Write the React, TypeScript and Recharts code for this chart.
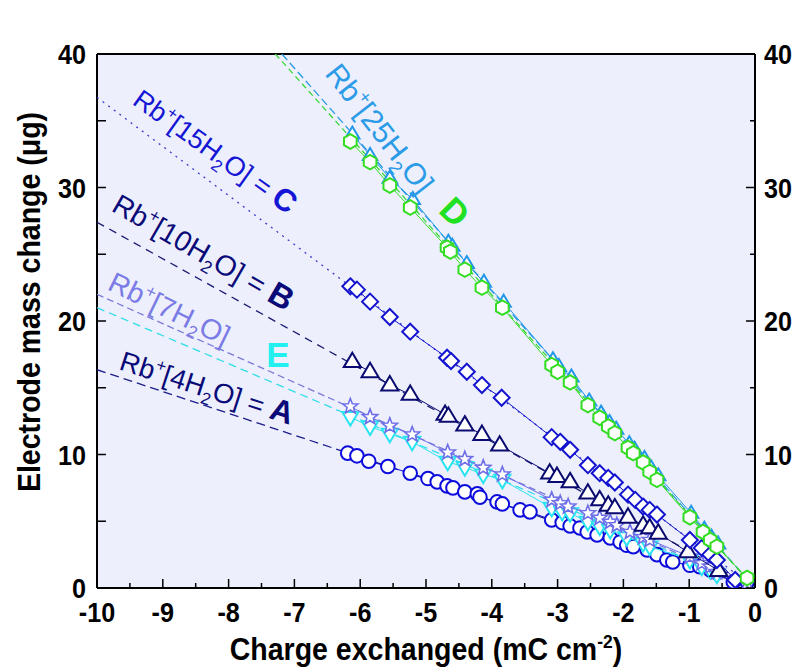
import React from "react";
import { ComposedChart, Scatter, XAxis, YAxis, CartesianGrid, ReferenceDot } from "recharts";

// ---- data ----
// Rb+[4H2O] = A, open circles
const A_X = [-6.19, -6.05, -5.87, -5.58, -5.24, -4.97, -4.83, -4.68, -4.59, -4.41, -4.22, -4.18, -3.92, -3.84, -3.57, -3.42, -3.09, -2.93, -2.81, -2.66, -2.55, -2.4, -2.2, -2.05, -1.95, -1.85, -1.64, -1.49, -1.34, -1.25, -0.99, -0.84, -0.68, -0.58, -0.33, -0.12];
const A_Y = [10.1, 9.9, 9.5, 9.1, 8.6, 8.2, 7.95, 7.65, 7.5, 7.2, 7.05, 6.8, 6.45, 6.3, 5.85, 5.7, 5.1, 4.9, 4.65, 4.5, 4.2, 3.97, 3.75, 3.45, 3.2, 3.1, 2.85, 2.5, 2.1, 1.95, 1.7, 1.6, 1.35, 1.15, 0.45, 0.45];
// E, down triangles
const E_X = [-6.15, -5.85, -5.55, -5.21, -4.67, -4.41, -4.13, -3.84, -3.09, -2.93, -2.81, -2.54, -2.36, -2.2, -1.95, -1.7, -1.6, -0.99, -0.81, -0.68, -0.58];
const E_Y = [12.8, 12.1, 11.55, 10.95, 9.45, 9.05, 8.5, 8.1, 6.0, 5.7, 5.6, 4.95, 4.6, 4.35, 3.8, 3.35, 3.1, 2.1, 1.6, 1.35, 1.0];
// Rb+[7H2O], stars
const S_X = [-6.15, -5.85, -5.55, -5.21, -4.67, -4.41, -4.13, -3.84, -3.09, -2.96, -2.84, -2.54, -2.36, -2.2, -2.1, -1.9, -1.7, -1.6, -0.99, -0.81, -0.68, -0.58, -0.12];
const S_Y = [13.6, 12.8, 12.15, 11.5, 10.15, 9.65, 9.0, 8.5, 6.6, 6.35, 6.1, 5.6, 5.25, 4.95, 4.7, 4.2, 3.8, 3.6, 2.35, 1.85, 1.6, 1.2, 0.35];
// Rb+[10H2O] = B, up triangles
const B_X = [-6.12, -5.85, -5.55, -5.24, -4.71, -4.66, -4.41, -4.15, -3.88, -3.12, -3.01, -2.81, -2.54, -2.36, -2.23, -2.13, -1.93, -1.7, -1.6, -1.47, -1.02, -0.55];
const B_Y = [16.95, 16.2, 15.2, 14.5, 13.0, 12.85, 12.2, 11.5, 10.7, 8.6, 8.35, 7.95, 7.1, 6.6, 6.2, 6.0, 5.3, 4.7, 4.5, 4.1, 2.7, 1.3];
// Rb+[15H2O] = C, diamonds
const C_X = [-6.15, -6.05, -5.85, -5.55, -5.24, -4.68, -4.62, -4.38, -4.15, -3.85, -3.09, -2.96, -2.81, -2.54, -2.36, -2.23, -2.13, -1.93, -1.82, -1.7, -1.6, -1.49, -0.99, -0.81, -0.68, -0.58, -0.3];
const C_Y = [22.6, 22.35, 21.45, 20.3, 19.2, 17.25, 17.0, 16.2, 15.2, 14.25, 11.3, 10.95, 10.35, 9.2, 8.6, 8.25, 7.9, 7.0, 6.6, 6.1, 5.85, 5.5, 3.6, 3.0, 2.5, 2.1, 0.6];
// Rb+[25H2O], up triangles
const T_X = [-6.12, -5.85, -5.55, -5.2, -4.66, -4.6, -4.38, -4.12, -3.82, -3.07, -2.98, -2.79, -2.52, -2.34, -2.21, -2.11, -1.91, -1.83, -1.68, -1.58, -1.47, -0.97, -0.77, -0.66, -0.56];
const T_Y = [34.0, 32.4, 30.7, 29.1, 25.9, 25.6, 24.3, 22.9, 21.4, 17.1, 16.6, 15.8, 14.0, 13.1, 12.4, 11.9, 10.8, 10.4, 9.7, 9.0, 8.4, 5.6, 4.4, 3.8, 3.3];
// D, hexagons
const D_X = [-6.15, -5.85, -5.55, -5.24, -4.68, -4.63, -4.41, -4.15, -3.84, -3.09, -3.0, -2.81, -2.54, -2.36, -2.23, -2.13, -1.93, -1.85, -1.7, -1.6, -1.49, -0.99, -0.79, -0.68, -0.58, -0.12];
const D_Y = [33.45, 31.9, 30.15, 28.5, 25.5, 25.2, 23.85, 22.5, 21.0, 16.7, 16.2, 15.4, 13.7, 12.75, 12.1, 11.6, 10.5, 10.1, 9.4, 8.7, 8.1, 5.3, 4.2, 3.6, 3.1, 0.75];

// fitted lines: [start x, start y, end x, end y]
const FIT_A = [-10, 16.35, 0, 0];
const FIT_E = [-10, 21.0, 0, 0];
const FIT_S = [-10, 22.0, 0, 0];
const FIT_B = [-10, 27.4, 0, 0];
const FIT_C = [-10, 36.75, 0, 0];
const FIT_T = [-7.19, 40, 0, 0];
const FIT_D = [-7.29, 40, 0, 0];

const X_TICKS = [-10, -9.5, -9, -8.5, -8, -7.5, -7, -6.5, -6, -5.5, -5, -4.5, -4, -3.5, -3, -2.5, -2, -1.5, -1, -0.5, 0];
const Y_TICKS = [0, 5, 10, 15, 20, 25, 30, 35, 40];

const pts = (xs: number[], ys: number[]) => xs.map((x, i) => ({ x, y: ys[i] }));
const fit = (f: number[]) => [{ x: f[0], y: f[1] }, { x: f[2], y: f[3] }];

const FONT = "'Liberation Sans', Arial, sans-serif";
const NARROW = 0.9;
const tickFont = { fontFamily: FONT, fontWeight: 700, fontSize: 28, fill: "#000" } as const;
const titleFont = { ...tickFont, fontSize: 31 };

// ---- marker shapes ----
const Circ = (c: string) => (p: any) => <circle cx={p.cx} cy={p.cy} r={6.8} fill="#fff" stroke={c} strokeWidth={2} />;
const TriUp = (c: string, s = 9) => (p: any) => (
  <path d={`M${p.cx},${p.cy - s}L${p.cx + s * 0.95},${p.cy + s * 0.6}L${p.cx - s * 0.95},${p.cy + s * 0.6}Z`} fill="#fff" stroke={c} strokeWidth={2} />
);
const TriDown = (c: string, s = 8.5) => (p: any) => (
  <path d={`M${p.cx},${p.cy + s}L${p.cx + s * 0.95},${p.cy - s * 0.6}L${p.cx - s * 0.95},${p.cy - s * 0.6}Z`} fill="#fff" stroke={c} strokeWidth={2} />
);
const Diamond = (c: string) => (p: any) => (
  <path d={`M${p.cx},${p.cy - 8}L${p.cx + 8},${p.cy}L${p.cx},${p.cy + 8}L${p.cx - 8},${p.cy}Z`} fill="#fff" stroke={c} strokeWidth={2} />
);
const Hex = (c: string) => (p: any) => {
  const r = 7.3;
  const d = [0, 1, 2, 3, 4, 5].map((k) => {
    const a = (Math.PI / 3) * k - Math.PI / 2;
    return `${k ? "L" : "M"}${p.cx + r * Math.cos(a)},${p.cy + r * Math.sin(a)}`;
  }).join("") + "Z";
  return <path d={d} fill="#fff" stroke={c} strokeWidth={2} />;
};
const Star = (c: string) => (p: any) => {
  const ro = 8, ri = 3.4;
  const d = Array.from({ length: 10 }, (_, k) => {
    const a = (Math.PI / 5) * k - Math.PI / 2;
    const r = k % 2 ? ri : ro;
    return `${k ? "L" : "M"}${p.cx + r * Math.cos(a)},${p.cy + r * Math.sin(a)}`;
  }).join("") + "Z";
  return <path d={d} fill="#fff" stroke={c} strokeWidth={1.6} />;
};
const none = () => <g />;

// ---- ticks (inward lines, bold narrow labels) ----
const Txt = ({ x, y, anchor, children }: any) => (
  <text transform={`translate(${x},${y}) scale(${NARROW},1)`} textAnchor={anchor} style={tickFont}>{children}</text>
);
function BottomTick({ x, y, payload }: any) {
  const major = Number.isInteger(payload.value);
  return (
    <g>
      <line x1={x} x2={x} y1={y} y2={y - (major ? 9 : 5)} stroke="#000" strokeWidth={1.5} />
      {major && <Txt x={x} y={y + 34} anchor="middle">{payload.value}</Txt>}
    </g>
  );
}
function TopTick({ x, y, payload }: any) {
  const major = Number.isInteger(payload.value);
  return (
    <g>
      <line x1={x} x2={x} y1={y} y2={y + 9} stroke="#000" strokeWidth={1.5} />
      {major && <Txt x={x} y={y - 15} anchor="middle">{payload.value}</Txt>}
    </g>
  );
}
function LeftTick({ x, y, payload }: any) {
  const major = payload.value % 10 === 0;
  return (
    <g>
      <line x1={x} x2={x + 9} y1={y} y2={y} stroke="#000" strokeWidth={1.5} />
      {major && <Txt x={x - 11} y={y + 10} anchor="end">{payload.value}</Txt>}
    </g>
  );
}
function RightTick({ x, y, payload }: any) {
  const major = payload.value % 10 === 0;
  return (
    <g>
      <line x1={x} x2={x - (major ? 9 : 5)} y1={y} y2={y} stroke="#000" strokeWidth={1.5} />
      {major && <Txt x={x + 9} y={y + 10} anchor="start">{payload.value}</Txt>}
    </g>
  );
}

const XTitle = (p: any) => {
  const vb = p.viewBox;
  return (
    <text transform={`translate(${vb.x + vb.width / 2},${vb.y + 72}) scale(0.92,1)`} textAnchor="middle" style={titleFont}>
      Charge exchanged (mC cm<tspan dy={-12} fontSize={19}>-2</tspan><tspan dy={12}>)</tspan>
    </text>
  );
};
const YTitle = (p: any) => {
  const vb = p.viewBox;
  return (
    <text transform={`translate(${vb.x + 3},${vb.y + 248}) rotate(-90) scale(0.92,1)`} textAnchor="middle" style={titleFont}>
      Electrode mass change (μg)
    </text>
  );
};

// ---- in-plot annotations ----
type Ann = { x: number; y: number; angle: number; color: string; n?: string; tail?: string; big?: string; size: number };
const ANNS: Ann[] = [
  { x: -9.48, y: 36.3, angle: 35.5, color: "#1515d5", n: "15", tail: "O] = ", big: "C", size: 27 },
  { x: -9.8, y: 28.3, angle: 30, color: "#0a0a78", n: "10", tail: "O] = ", big: "B", size: 28.5 },
  { x: -9.86, y: 22.4, angle: 26, color: "#7b7be6", n: "7", tail: "O]", size: 28.5 },
  { x: -9.68, y: 16.4, angle: 18, color: "#0a0a78", n: "4", tail: "O] = ", big: "A", size: 27.5 },
  { x: -6.55, y: 38.5, angle: 52, color: "#2b9be8", n: "25", tail: "O]", size: 30 },
];
const Rot = (a: Ann) => (p: any) => {
  const s = a.size, sm = s * 0.62;
  return (
    <text transform={`translate(${p.cx},${p.cy}) rotate(${a.angle})`} fill={a.color} style={{ fontFamily: FONT, fontSize: s, whiteSpace: "pre" }}>
      Rb<tspan dy={-s * 0.4} fontSize={sm}>+</tspan><tspan dy={s * 0.4}>[{a.n}H</tspan><tspan dy={s * 0.25} fontSize={sm}>2</tspan><tspan dy={-s * 0.25}>{a.tail}</tspan>
      {a.big && <tspan fontWeight={700} fontSize={s * 1.15}>{a.big}</tspan>}
    </text>
  );
};
const Letter = (t: string, color: string, angle: number) => (p: any) => (
  <text transform={`translate(${p.cx},${p.cy}) rotate(${angle})`} fill={color} textAnchor="middle" dominantBaseline="central"
    style={{ fontFamily: FONT, fontSize: 35, fontWeight: 700 }}>{t}</text>
);

const FITS: [number[], string, string][] = [
  [FIT_A, "#1c1c8c", "9 5"],
  [FIT_E, "#30dde8", "8 5"],
  [FIT_S, "#7a7ad8", "7 4"],
  [FIT_B, "#1a1a70", "8 6"],
  [FIT_C, "#3c3cc8", "2 5"],
  [FIT_T, "#2a9ae0", "8 4"],
  [FIT_D, "#3ad83a", "6 4"],
];

export default function App() {
  return (
    <div style={{ position: "absolute", left: 0, top: 0, width: 798, height: 668, background: "#fff" }}>
      <ComposedChart width={798} height={668} margin={{ top: 24, right: 8, bottom: 40, left: 37 }}>
        <CartesianGrid horizontal={false} vertical={false} fill="#edf0fc" />
        <XAxis xAxisId="b" type="number" dataKey="x" domain={[-10, 0]} ticks={X_TICKS} interval={0} orientation="bottom" height={40}
          tickLine={false} tickSize={0} tickMargin={0} axisLine={{ stroke: "#000", strokeWidth: 2 }} tick={<BottomTick />}
          allowDataOverflow label={XTitle} />
        <XAxis xAxisId="t" type="number" domain={[-10, 0]} ticks={X_TICKS} interval={0} orientation="top" height={30}
          tickLine={false} tickSize={0} tickMargin={0} axisLine={{ stroke: "#000", strokeWidth: 2 }} tick={<TopTick />} allowDataOverflow />
        <YAxis yAxisId="l" type="number" dataKey="y" domain={[0, 40]} ticks={Y_TICKS} interval={0} orientation="left" width={60}
          tickLine={false} tickSize={0} tickMargin={0} axisLine={{ stroke: "#000", strokeWidth: 2 }} tick={<LeftTick />}
          allowDataOverflow label={YTitle} />
        <YAxis yAxisId="r" type="number" domain={[0, 40]} ticks={Y_TICKS} interval={0} orientation="right" width={35}
          tickLine={false} tickSize={0} tickMargin={0} axisLine={{ stroke: "#000", strokeWidth: 2 }} tick={<RightTick />} allowDataOverflow />

        {FITS.map(([f, c, dash], i) => (
          <Scatter key={"fit" + i} xAxisId="b" yAxisId="l" data={fit(f)} shape={none} isAnimationActive={false}
            line={{ stroke: c, strokeWidth: 1.3, strokeDasharray: dash }} />
        ))}

        <Scatter xAxisId="b" yAxisId="l" data={pts(A_X, A_Y)} shape={Circ("#0c0cdc")} line={{ stroke: "#0c0cdc", strokeWidth: 1 }} isAnimationActive={false} />
        <Scatter xAxisId="b" yAxisId="l" data={pts(E_X, E_Y)} shape={TriDown("#28e4f0")} line={{ stroke: "#28e4f0", strokeWidth: 1 }} isAnimationActive={false} />
        <Scatter xAxisId="b" yAxisId="l" data={pts(S_X, S_Y)} shape={Star("#6e6ee8")} line={{ stroke: "#6e6ee8", strokeWidth: 1 }} isAnimationActive={false} />
        <Scatter xAxisId="b" yAxisId="l" data={pts(B_X, B_Y)} shape={TriUp("#0a0a70")} line={{ stroke: "#0a0a70", strokeWidth: 1 }} isAnimationActive={false} />
        <Scatter xAxisId="b" yAxisId="l" data={pts(C_X, C_Y)} shape={Diamond("#1414d0")} line={{ stroke: "#1414d0", strokeWidth: 1 }} isAnimationActive={false} />
        <Scatter xAxisId="b" yAxisId="l" data={pts(T_X, T_Y)} shape={TriUp("#2296ea", 7.5)} line={{ stroke: "#2296ea", strokeWidth: 1 }} isAnimationActive={false} />
        <Scatter xAxisId="b" yAxisId="l" data={pts(D_X, D_Y)} shape={Hex("#33dd22")} line={{ stroke: "#33dd22", strokeWidth: 1 }} isAnimationActive={false} />

        {ANNS.map((a, i) => (
          <ReferenceDot key={"ann" + i} xAxisId="b" yAxisId="l" x={a.x} y={a.y} r={0} ifOverflow="visible" shape={Rot(a)} />
        ))}
        <ReferenceDot xAxisId="b" yAxisId="l" x={-4.56} y={28.2} r={0} ifOverflow="visible" shape={Letter("D", "#22e022", 45)} />
        <ReferenceDot xAxisId="b" yAxisId="l" x={-7.25} y={17.5} r={0} ifOverflow="visible" shape={Letter("E", "#22f0f0", 0)} />
      </ComposedChart>
    </div>
  );
}
